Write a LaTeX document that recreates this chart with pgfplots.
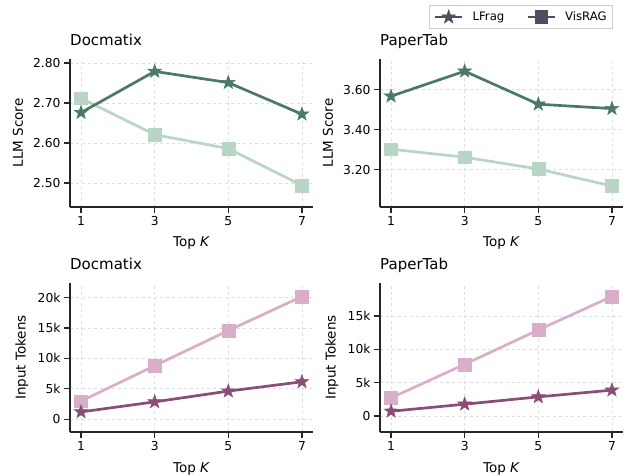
\documentclass[border=0pt]{standalone}
\usepackage{fontspec}
\setmainfont{DejaVu Sans}
\usepackage{pgfplots}
\pgfplotsset{compat=1.18}
\definecolor{dg}{HTML}{4A7A66}
\definecolor{lg}{HTML}{B8D5C6}
\definecolor{dp}{HTML}{8B4D76}
\definecolor{lp}{HTML}{D8AEC8}
\definecolor{gridc}{HTML}{DADEEA}
\definecolor{legc}{HTML}{4B4F5E}
\pgfdeclareplotmark{fstar}{%
  \pgfpathmoveto{\pgfpointpolar{90}{\pgfplotmarksize}}%
  \pgfpathlineto{\pgfpointpolar{126}{0.4\pgfplotmarksize}}%
  \pgfpathlineto{\pgfpointpolar{162}{\pgfplotmarksize}}%
  \pgfpathlineto{\pgfpointpolar{198}{0.4\pgfplotmarksize}}%
  \pgfpathlineto{\pgfpointpolar{234}{\pgfplotmarksize}}%
  \pgfpathlineto{\pgfpointpolar{270}{0.4\pgfplotmarksize}}%
  \pgfpathlineto{\pgfpointpolar{306}{\pgfplotmarksize}}%
  \pgfpathlineto{\pgfpointpolar{342}{0.4\pgfplotmarksize}}%
  \pgfpathlineto{\pgfpointpolar{18}{\pgfplotmarksize}}%
  \pgfpathlineto{\pgfpointpolar{54}{0.4\pgfplotmarksize}}%
  \pgfpathclose
  \pgfusepathqfillstroke}
\pgfplotsset{
  myax/.style={
    scale only axis, width=243bp, height=148bp,
    axis lines=left, axis line style={-, line width=1.6bp, color=black!85},
    xmin=0.7, xmax=7.3, xtick={1,3,5,7},
    tick align=outside, major tick length=6bp,
    major tick style={line width=1.3bp, black!85},
    grid=major, grid style={dashed, line width=0.7bp, gridc},
    tick label style={font=\fontsize{12.3bp}{14bp}\selectfont},
    label style={font=\fontsize{13.5bp}{15bp}\selectfont},
    title style={font=\fontsize{15bp}{17bp}\selectfont, at={(axis description cs:0,1)}, anchor=base west, yshift=8bp, inner sep=0pt},
    xlabel={Top \textit{K}},
    xlabel style={at={(axis description cs:0.5,0)}, anchor=base, yshift=-40bp},
    /pgf/number format/assume math mode=true,
    clip=false,
    scaled y ticks=false,
  },
  lfrag/.style={line width=2.7bp, color=#1, mark=fstar, mark size=7.2bp, mark options={solid, fill=#1, draw=#1, line width=0.5bp}},
  visrag/.style={line width=2.7bp, color=#1, mark=square*, mark size=6.4bp, mark options={solid, fill=#1, draw=#1, line width=0.4bp}},
}
\begin{document}
\begin{tikzpicture}
% top left
\begin{axis}[myax, at={(70bp,269bp)}, anchor=south west,
  ymin=2.44, ymax=2.81, ytick={2.5,2.6,2.7,2.8},
  yticklabel style={/pgf/number format/.cd, fixed, fixed zerofill, precision=2},
  title={Docmatix}, ylabel={LLM Score},
  ylabel style={at={(axis description cs:-0.214,0.5)}, anchor=center}]
\addplot[visrag=lg] coordinates {(1,2.712) (3,2.621) (5,2.586) (7,2.494)};
\addplot[lfrag=dg] coordinates {(1,2.676) (3,2.779) (5,2.751) (7,2.672)};
\end{axis}
% top right
\begin{axis}[myax, at={(380bp,269bp)}, anchor=south west,
  ymin=3.013, ymax=3.753, ytick={3.2,3.4,3.6},
  yticklabel style={/pgf/number format/.cd, fixed, fixed zerofill, precision=2},
  title={PaperTab}, ylabel={LLM Score},
  ylabel style={at={(axis description cs:-0.214,0.5)}, anchor=center},
  legend style={at={(axis description cs:0.959,1.365)}, anchor=north east,
    draw=black!20, line width=0.8bp, legend columns=2,
    font=\fontsize{11.7bp}{13bp}\selectfont,
    /tikz/every odd column/.append style={column sep=7bp},
    /tikz/every even column/.append style={column sep=20bp},
    inner xsep=4bp, inner ysep=4.5bp},
  legend image code/.code={\draw[mark repeat=2, mark phase=2, #1] plot coordinates {(0bp,0bp) (13.5bp,0bp) (27bp,0bp)};}]
\addlegendimage{lfrag=legc}
\addlegendentry{LFrag}
\addlegendimage{visrag=legc}
\addlegendentry{VisRAG}
\addplot[visrag=lg, forget plot] coordinates {(1,3.302) (3,3.262) (5,3.203) (7,3.118)};
\addplot[lfrag=dg, forget plot] coordinates {(1,3.567) (3,3.692) (5,3.527) (7,3.505)};
\end{axis}
% bottom left
\begin{axis}[myax, at={(70bp,44bp)}, anchor=south west, height=149bp,
  ymin=-2100, ymax=22380, ytick={0,5000,10000,15000,20000},
  yticklabels={0,5k,10k,15k,20k},
  title={Docmatix}, ylabel={Input Tokens},
  ylabel style={at={(axis description cs:-0.1975,0.5)}, anchor=center}]
\addplot[visrag=lp] coordinates {(1,2970) (3,8790) (5,14560) (7,20170)};
\addplot[lfrag=dp] coordinates {(1,1200) (3,2850) (5,4620) (7,6150)};
\end{axis}
% bottom right
\begin{axis}[myax, at={(380bp,44bp)}, anchor=south west, height=149bp,
  ymin=-2410, ymax=19940, ytick={0,5000,10000,15000},
  yticklabels={0,5k,10k,15k},
  title={PaperTab}, ylabel={Input Tokens},
  ylabel style={at={(axis description cs:-0.1975,0.5)}, anchor=center}]
\addplot[visrag=lp] coordinates {(1,2710) (3,7740) (5,12900) (7,17920)};
\addplot[lfrag=dp] coordinates {(1,700) (3,1760) (5,2860) (7,3870)};
\end{axis}
\pgfresetboundingbox
\path (0bp,0bp) rectangle (629bp,476bp);
\end{tikzpicture}
\end{document}
